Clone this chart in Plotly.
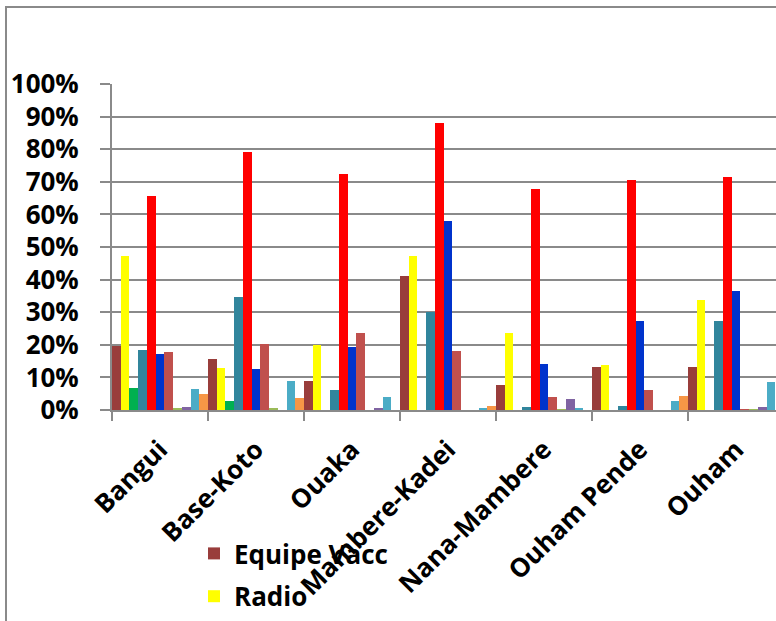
import plotly.graph_objects as go

# Regions (categories)
regions = ["Bangui", "Base-Koto", "Ouaka", "Mambere-Kadei",
           "Nana-Mambere", "Ouham Pende", "Ouham"]

# Share of respondents per information source, in percent
equipe_vacc = [19.5, 15.8, 8.9, 41.2, 7.7, 13.1, 13.3]
radio       = [47.2, 12.8, 19.9, 47.2, 23.5, 13.8, 33.7]
serie_3     = [6.6, 2.9, 0.0, 0.0, 0.0, 0.0, 0.0]
serie_4     = [18.4, 34.6, 6.1, 30.0, 0.8, 1.3, 27.4]
serie_5     = [65.6, 79.2, 72.3, 87.9, 67.7, 70.6, 71.4]
serie_6     = [17.1, 12.5, 19.2, 58.0, 14.1, 27.3, 36.6]
serie_7     = [17.7, 20.4, 23.5, 18.1, 4.1, 6.1, 0.2]
serie_8     = [0.5, 0.5, 0.0, 0.0, 0.3, 0.0, 0.1]
serie_9     = [0.8, 0.0, 0.6, 0.0, 3.3, 0.0, 0.8]
serie_10    = [6.3, 8.9, 4.1, 0.5, 0.6, 2.9, 8.7]
serie_11    = [4.9, 3.6, 0.0, 1.2, 0.0, 4.3, 0.0]

series = [
    ("Equipe Vacc", equipe_vacc, "#993D3B", True),
    ("Radio", radio, "#FFFF00", True),
    ("Série 3", serie_3, "#00B050", False),
    ("Série 4", serie_4, "#31859C", False),
    ("Série 5", serie_5, "#FF0000", False),
    ("Série 6", serie_6, "#0033CC", False),
    ("Série 7", serie_7, "#C0504D", False),
    ("Série 8", serie_8, "#9BBB59", False),
    ("Série 9", serie_9, "#8064A2", False),
    ("Série 10", serie_10, "#4BACC6", False),
    ("Série 11", serie_11, "#F79646", False),
]

FONT = "Open Sans"
GRID = "#8a8a8a"
LABEL_FONT = dict(family=FONT, size=26, color="black", weight="bold")

fig = go.Figure()
for name, vals, color, in_legend in series:
    fig.add_trace(go.Bar(
        x=regions, y=vals, name=name, legendgroup=name,
        marker=dict(color=color, line=dict(width=0)),
        showlegend=in_legend,
    ))

# plot area spans 112px..776px horizontally; one category = 96px
plot_w = 776 - 112
cat_px = 96
x_end = -0.5 + plot_w / cat_px

fig.update_layout(
    width=776, height=621,
    margin=dict(l=112, r=0, t=84, b=211, pad=0),
    paper_bgcolor="white", plot_bgcolor="white",
    barmode="group", bargap=0, bargroupgap=0,
    font=LABEL_FONT,
    showlegend=True,
    legend=dict(
        x=(194 - 112) / plot_w, xanchor="left",
        y=(410 - 530) / 326, yanchor="top",
        orientation="v", tracegroupgap=6,
        font=LABEL_FONT,
        bgcolor="rgba(0,0,0,0)",
    ),
    xaxis=dict(
        type="category", range=[-0.5, x_end],
        tickson="boundaries", ticks="outside", ticklen=9,
        tickcolor=GRID, tickwidth=2,
        showline=True, linecolor=GRID, linewidth=2,
        tickangle=-45, ticklabelstandoff=12,
        tickfont=LABEL_FONT,
        showgrid=False, zeroline=False,
    ),
    yaxis=dict(
        range=[0, 100.01], dtick=10, ticksuffix="%",
        ticks="outside", ticklen=10, tickcolor=GRID, tickwidth=2,
        ticklabelstandoff=16,
        showline=True, linecolor=GRID, linewidth=2,
        showgrid=True, gridcolor=GRID, gridwidth=2,
        zeroline=False,
        tickfont=LABEL_FONT,
    ),
)

# chart frame
fig.add_shape(
    type="rect", xref="paper", yref="paper",
    x0=(6 - 112) / plot_w, x1=1.2,
    y0=-1.0, y1=(410 - 7) / 326,
    line=dict(color=GRID, width=2), fillcolor="rgba(0,0,0,0)",
    layer="below",
)

fig.write_html("out.html")
